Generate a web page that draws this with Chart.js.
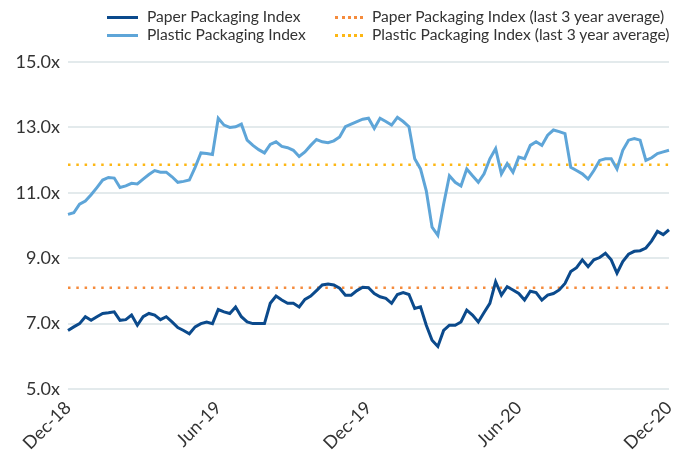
<!DOCTYPE html>
<html>
<head>
<meta charset="utf-8">
<script src="https://cdn.jsdelivr.net/npm/chart.js@4"></script>
<style>
  body { margin: 0; background: #fff; }
  #wrap { position: relative; width: 673px; height: 464px; }
  #legend { position: absolute; top: 7px; left: 107px; font-family: Lato, sans-serif; font-size: 15.6px; color: #333; }
  .item { position: absolute; white-space: nowrap; line-height: 18px; }
  .swatch { display: inline-block; width: 31px; height: 0; vertical-align: middle; margin-right: 9px; position: relative; top: -1px; }
</style>
</head>
<body>
<div id="wrap">
  <canvas id="chart" width="673" height="464"></canvas>
  <div id="legend"></div>
</div>
<script>
// weekly multiples, Dec-18 .. Dec-20
const xTickLabels = ["Dec-18", "Jun-19", "Dec-19", "Jun-20", "Dec-20"];
const xTickEvery = 26;

const paper = [
  6.79, 6.90, 7.00, 7.21, 7.10, 7.21, 7.31, 7.33, 7.36, 7.10,
  7.12, 7.26, 6.95, 7.21, 7.31, 7.26, 7.12, 7.21, 7.05, 6.88,
  6.79, 6.69, 6.90, 7.00, 7.05, 7.00, 7.43, 7.36, 7.31, 7.51,
  7.21, 7.05, 7.00, 7.00, 7.00, 7.62, 7.84, 7.72, 7.62, 7.62,
  7.51, 7.74, 7.84, 8.01, 8.18, 8.21, 8.18, 8.08, 7.87, 7.87,
  8.01, 8.11, 8.10, 7.92, 7.82, 7.77, 7.62, 7.89, 7.95, 7.89,
  7.46, 7.51, 6.95, 6.49, 6.30, 6.79, 6.95, 6.95, 7.05, 7.41,
  7.26, 7.05, 7.34, 7.62, 8.28, 7.87, 8.13, 8.03, 7.92, 7.72,
  7.99, 7.95, 7.72, 7.87, 7.92, 8.03, 8.23, 8.59, 8.71, 8.95,
  8.74, 8.95, 9.02, 9.15, 8.95, 8.54, 8.90, 9.12, 9.21, 9.23,
  9.31, 9.53, 9.82, 9.72, 9.87
];

const plastic = [
  10.34, 10.39, 10.65, 10.75, 10.94, 11.16, 11.39, 11.47, 11.45, 11.16,
  11.21, 11.29, 11.27, 11.42, 11.56, 11.68, 11.63, 11.63, 11.49, 11.32,
  11.35, 11.39, 11.78, 12.22, 12.20, 12.17, 13.28, 13.07, 13.00, 13.02,
  13.10, 12.61, 12.45, 12.32, 12.22, 12.48, 12.56, 12.42, 12.38, 12.30,
  12.11, 12.25, 12.45, 12.63, 12.56, 12.53, 12.59, 12.71, 13.02, 13.10,
  13.18, 13.25, 13.28, 12.97, 13.28, 13.18, 13.07, 13.31, 13.18, 13.02,
  12.04, 11.73, 11.06, 9.95, 9.70, 10.65, 11.52, 11.32, 11.21, 11.73,
  11.52, 11.32, 11.58, 12.04, 12.35, 11.58, 11.89, 11.63, 12.09, 12.04,
  12.45, 12.56, 12.45, 12.76, 12.92, 12.87, 12.81, 11.78, 11.68, 11.58,
  11.42, 11.68, 11.99, 12.04, 12.04, 11.73, 12.30, 12.61, 12.66, 12.61,
  11.99, 12.07, 12.20, 12.25, 12.30
];

const paperAvg = 8.1;
const plasticAvg = 11.86;

const darkBlue = "#0b4a8c";
const lightBlue = "#5ea5d8";
const orange = "#f58b3c";
const yellow = "#fdb714";

const labels = paper.map((v, i) =>
  i % xTickEvery === 0 ? xTickLabels[i / xTickEvery] : ""
);

// html legend, two columns
const legendItems = [
  { text: "Paper Packaging Index", color: darkBlue, dotted: false, x: 0, y: 0 },
  { text: "Plastic Packaging Index", color: lightBlue, dotted: false, x: 0, y: 18 },
  { text: "Paper Packaging Index (last 3 year average)", color: orange, dotted: true, x: 228, y: 0 },
  { text: "Plastic Packaging Index (last 3 year average)", color: yellow, dotted: true, x: 228, y: 18 },
];
const legend = document.getElementById("legend");
legendItems.forEach((it) => {
  const div = document.createElement("div");
  div.className = "item";
  div.style.left = it.x + "px";
  div.style.top = it.y + "px";
  const sw = document.createElement("span");
  sw.className = "swatch";
  sw.style.borderTop = it.dotted
    ? `3px dotted ${it.color}`
    : `3px solid ${it.color}`;
  if (it.dotted) { sw.style.width = "28px"; sw.style.marginRight = "9px"; }
  div.append(sw, document.createTextNode(it.text));
  legend.append(div);
});

const dotted = { borderWidth: 2.5, borderDash: [2.5, 5.8], pointRadius: 0, fill: false };

new Chart(document.getElementById("chart"), {
  type: "line",
  data: {
    labels,
    datasets: [
      { data: plastic, borderColor: lightBlue, borderWidth: 3, pointRadius: 0, tension: 0 },
      { data: paper, borderColor: darkBlue, borderWidth: 3, pointRadius: 0, tension: 0 },
      { data: labels.map(() => plasticAvg), borderColor: yellow, ...dotted },
      { data: labels.map(() => paperAvg), borderColor: orange, ...dotted },
    ],
  },
  options: {
    responsive: false,
    animation: false,
    layout: { padding: { top: 62, right: 4, left: 0, bottom: 0 } },
    plugins: { legend: { display: false }, tooltip: { enabled: false } },
    scales: {
      x: {
        grid: { display: false },
        border: { display: false },
        afterFit: (scale) => {
          scale.height = 75;
          scale.paddingLeft = 0;
          scale.paddingRight = 0;
        },
        ticks: {
          autoSkip: false,
          maxRotation: 45,
          minRotation: 45,
          padding: 0,
          color: "#333",
          font: { family: "Lato", size: 18 },
        },
      },
      y: {
        min: 5,
        max: 15,
        afterFit: (scale) => { scale.width = 68; },
        grid: { color: "#e3eaec", lineWidth: 2, drawTicks: false },
        border: { display: false },
        ticks: {
          stepSize: 2,
          padding: 8,
          color: "#333",
          font: { family: "Lato", size: 18 },
          callback: (v) => v.toFixed(1) + "x",
        },
      },
    },
  },
});
</script>
</body>
</html>
